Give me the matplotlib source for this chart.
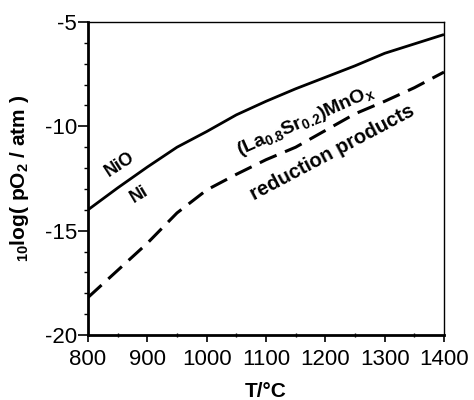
import numpy as np
import matplotlib
matplotlib.use('Agg')
import matplotlib.pyplot as plt
from matplotlib.ticker import MultipleLocator

plt.rcParams['font.family'] = ['Liberation Sans', 'DejaVu Sans']
plt.rcParams['mathtext.fontset'] = 'custom'
plt.rcParams['mathtext.rm'] = 'Liberation Sans:bold'
plt.rcParams['mathtext.it'] = 'Liberation Sans:bold'
plt.rcParams['mathtext.bf'] = 'Liberation Sans:bold'
plt.rcParams['axes.unicode_minus'] = False

# NiO / Ni equilibrium (solid)
t_ni = [800, 850, 900, 950, 1000, 1050, 1100, 1150, 1200, 1250, 1300, 1350, 1400]
log_po2_ni = [-14.0, -12.95, -11.95, -11.0, -10.25, -9.45, -8.8, -8.2, -7.65, -7.1,
              -6.5, -6.05, -5.6]

# (La0.8Sr0.2)MnOx / reduction products (dashed)
t_lsm = [800, 850, 900, 950, 1000, 1050, 1100, 1150, 1200, 1250, 1300, 1350, 1400]
log_po2_lsm = [-18.2, -16.9, -15.6, -14.15, -13.05, -12.3, -11.6, -11.0, -10.2,
               -9.4, -8.8, -8.15, -7.4]

fig = plt.figure(figsize=(4.74, 4.0), dpi=100)
ax = fig.add_axes([0.1857, 0.1625, 0.751, 0.7825])

ax.plot(t_ni, log_po2_ni, color='black', lw=2.0, solid_capstyle='butt')
ax.plot(t_lsm, log_po2_lsm, color='black', lw=2.2, dashes=(6, 3))

ax.set_xlim(800, 1400)
ax.set_ylim(-20, -5)
ax.xaxis.set_major_locator(MultipleLocator(100))
ax.xaxis.set_minor_locator(MultipleLocator(50))
ax.yaxis.set_major_locator(MultipleLocator(5))
ax.yaxis.set_minor_locator(MultipleLocator(1))
ax.tick_params(axis='both', which='major', labelsize=16, width=1.2, direction='out')
ax.tick_params(axis='x', which='major', length=5, pad=5)
ax.tick_params(axis='y', which='major', length=7, pad=1)
ax.tick_params(axis='x', which='minor', length=3, width=1.0, direction='inout')
ax.tick_params(axis='y', which='minor', length=3, width=1.0, direction='out')

for side in ['left', 'bottom']:
    ax.spines[side].set_linewidth(2.0)
for side in ['top', 'right']:
    ax.spines[side].set_linewidth(1.0)

ax.set_xlabel('T/°C', fontsize=15, fontweight='bold', labelpad=9)
ax.set_ylabel(r'$_{10}$log( pO$_2$ / atm )', fontsize=15, fontweight='bold', labelpad=10)

ax.text(853, -11.85, 'NiO', fontsize=13, fontweight='bold', rotation=33,
        ha='center', va='center')
ax.text(886, -13.25, 'Ni', fontsize=13, fontweight='bold', rotation=31,
        ha='center', va='center')
ax.text(1166, -9.75, r'(La$_{0.8}$Sr$_{0.2}$)MnO$_x$', fontsize=14, fontweight='bold',
        rotation=24, ha='center', va='center')
ax.text(1212, -11.25, 'reduction products', fontsize=14.5, fontweight='bold',
        rotation=28, ha='center', va='center')

fig.savefig('out.png', dpi=100)
